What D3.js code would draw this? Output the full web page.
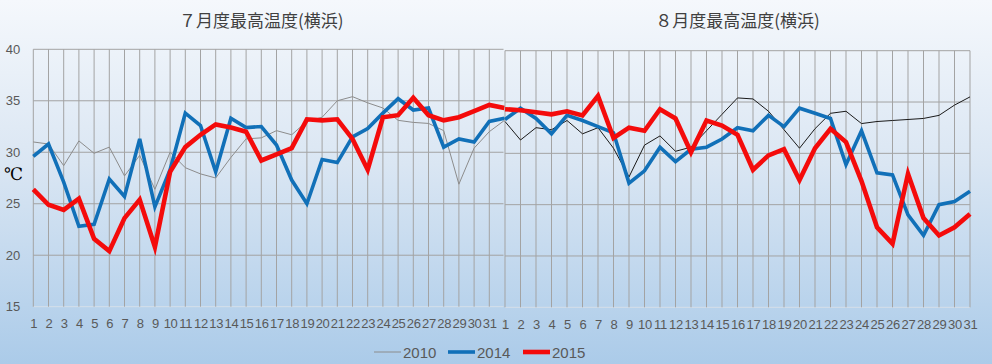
<!DOCTYPE html>
<html>
<head>
<meta charset="utf-8">
<script src="https://cdn.jsdelivr.net/npm/d3@7"></script>
<style>
  body { margin: 0; }
  svg { display: block; font-family: "Liberation Sans", Arial, sans-serif; }
</style>
</head>
<body>
<div id="chart"></div>
<script>
const days = d3.range(1, 32);
const yTicks = [15, 20, 25, 30, 35, 40];
const seriesNames = ['2010', '2014', '2015'];
const titles = ['７月度最高温度(横浜)', '８月度最高温度(横浜)'];

const jul2010 = [31.0, 30.8, 28.7, 31.1, 29.9, 30.5, 27.7, 29.7, 26.4, 30.0, 28.5, 27.9, 27.5, 29.5, 31.3, 31.4,
  32.1, 31.7, 33.0, 33.4, 35.0, 35.4, 34.8, 34.3, 33.1, 32.9, 32.8, 32.1, 26.9, 30.4, 32.0];
const jul2014 = [29.6, 30.8, 27.1, 22.8, 23.0, 27.4, 25.7, 31.3, 24.7, 28.3, 33.8, 32.6, 28.1, 33.3, 32.4, 32.5,
  30.7, 27.3, 25.0, 29.3, 29.0, 31.5, 32.3, 33.8, 35.2, 34.1, 34.3, 30.5, 31.3, 31.0, 33.0];
const jul2015 = [26.4, 24.9, 24.4, 25.5, 21.6, 20.4, 23.6, 25.4, 20.8, 28.1, 30.5, 31.7, 32.7, 32.4, 32.0, 29.2,
  29.8, 30.4, 33.2, 33.1, 33.2, 31.3, 28.3, 33.4, 33.6, 35.3, 33.6, 33.1, 33.4, 34.0, 34.6];

const aug2010 = [33.1, 31.3, 32.5, 32.3, 33.2, 31.9, 32.5, 30.5, 27.7, 30.8, 31.7, 30.2, 30.6, 32.2, 33.8, 35.4,
  35.3, 34.1, 32.3, 30.5, 32.4, 33.9, 34.1, 32.9, 33.1, 33.2, 33.3, 33.4, 33.7, 34.7, 35.5];
const aug2014 = [33.3, 34.4, 33.4, 31.9, 33.7, 33.2, 32.6, 32.0, 27.1, 28.3, 30.6, 29.2, 30.4, 30.6, 31.4, 32.5,
  32.2, 33.7, 32.6, 34.4, 33.9, 33.4, 28.9, 32.2, 28.1, 27.9, 24.0, 22.0, 25.0, 25.3, 26.3];
const aug2015 = [34.3, 34.2, 34.0, 33.8, 34.1, 33.7, 35.6, 31.5, 32.5, 32.2, 34.3, 33.4, 30.1, 33.2, 32.7, 31.8,
  28.4, 29.8, 30.4, 27.4, 30.5, 32.4, 31.1, 27.3, 22.8, 21.2, 28.0, 23.7, 22.0, 22.8, 24.1];

const width = 992, height = 364;

const svg = d3.select('#chart').append('svg')
  .attr('width', width)
  .attr('height', height);

const defs = svg.append('defs');
const grad = defs.append('linearGradient')
  .attr('id', 'bg').attr('x1', 0).attr('y1', 0).attr('x2', 0).attr('y2', 1);
grad.append('stop').attr('offset', '0%').attr('stop-color', '#f5f8fc');
grad.append('stop').attr('offset', '45%').attr('stop-color', '#dae6f3');
grad.append('stop').attr('offset', '100%').attr('stop-color', '#abcbe9');

// the July chart also plots Aug 1, the August chart sits on top of that part
defs.append('clipPath').attr('id', 'julClip')
  .append('rect').attr('x', 0).attr('y', 0).attr('width', 505).attr('height', height);

svg.append('rect').attr('width', width).attr('height', height).attr('fill', 'url(#bg)');

const panels = [
  { title: titles[0], data: [jul2010, jul2014, jul2015], next: [aug2010, aug2014, aug2015],
    x0: 33.3, x1: 504.5, gridEnd: 503.5, top: 49.3, bottom: 306.7, c2010: '#8c8c8c', yAxis: true },
  { title: titles[1], data: [aug2010, aug2014, aug2015], next: null,
    x0: 505, x1: 970, gridEnd: 970, top: 50.7, bottom: 307.3, c2010: '#1a1a1a', yAxis: false }
];

const styles = {
  '2014': { color: '#1170b8', width: 3.6 },
  '2015': { color: '#f40b0b', width: 4.6 }
};

panels.forEach(p => {
  const n = p.next ? days.length + 1 : days.length;
  const idx = d3.range(n);
  const label = i => days[i % days.length];
  const x = d3.scalePoint().domain(idx).range([p.x0, p.x1]);
  const y = d3.scaleLinear().domain([15, 40]).range([p.bottom, p.top]);
  const g = svg.append('g');
  if (p.next) g.attr('clip-path', 'url(#julClip)');

  g.append('g').selectAll('line')
    .data(yTicks)
    .enter().append('line')
    .attr('x1', p.x0).attr('x2', p.gridEnd)
    .attr('y1', d => y(d)).attr('y2', d => y(d))
    .attr('stroke', d => d === 15 ? '#d6dfe9' : '#a3a3a3')
    .attr('stroke-width', 1);

  g.append('g').selectAll('line')
    .data(idx.slice(0, days.length))
    .enter().append('line')
    .attr('x1', d => x(d)).attr('x2', d => x(d))
    .attr('y1', y(40)).attr('y2', y(15))
    .attr('stroke', '#a3a3a3')
    .attr('stroke-width', 1);

  const xAxis = g.append('g')
    .attr('transform', `translate(0,${p.bottom})`)
    .call(d3.axisBottom(x).tickSize(0).tickPadding(12).tickFormat(label));
  xAxis.select('.domain').remove();
  xAxis.selectAll('text')
    .attr('fill', '#595959')
    .attr('opacity', d => d >= days.length ? 0.25 : 1)
    .style('font-size', '13px')
    .style('letter-spacing', '-0.3px');

  if (p.yAxis) {
    const yAxis = g.append('g')
      .attr('transform', `translate(${p.x0},0)`)
      .call(d3.axisLeft(y).tickValues(yTicks).tickSize(0).tickPadding(13));
    yAxis.select('.domain').remove();
    yAxis.selectAll('text')
      .attr('fill', '#595959')
      .style('font-size', '13px');

    g.append('text')
      .attr('x', 4).attr('y', 180)
      .attr('fill', '#000')
      .style('font-family', '"DejaVu Serif", "Liberation Serif", serif')
      .style('font-size', '17px')
      .text('℃');
  }

  g.append('text')
    .attr('x', p.next ? (p.x0 + x(days.length - 1)) / 2 : (p.x0 + p.x1) / 2)
    .attr('y', 27)
    .attr('text-anchor', 'middle')
    .attr('fill', '#404040')
    .style('font-family', '"Noto Sans CJK JP", sans-serif')
    .style('font-size', '17px')
    .text(p.title);

  const line = d3.line()
    .x((d, i) => x(i))
    .y(d => y(d));

  seriesNames.forEach((name, k) => {
    const st = name === '2010' ? { color: p.c2010, width: 1 } : styles[name];
    const values = p.next ? p.data[k].concat(p.next[k][0]) : p.data[k];
    g.append('path')
      .datum(values)
      .attr('fill', 'none')
      .attr('stroke', st.color)
      .attr('stroke-width', st.width)
      .attr('stroke-linejoin', 'miter')
      .attr('d', line);
  });
});

// legend
const legendItems = [
  { name: '2010', color: '#8c8c8c', width: 1, x: 374 },
  { name: '2014', color: styles['2014'].color, width: 3.6, x: 448 },
  { name: '2015', color: styles['2015'].color, width: 4.6, x: 523 }
];
const legend = svg.append('g').attr('transform', 'translate(0,352)');
legend.selectAll('line')
  .data(legendItems)
  .enter().append('line')
  .attr('x1', d => d.x).attr('x2', d => d.x + 27)
  .attr('stroke', d => d.color)
  .attr('stroke-width', d => d.width);
legend.selectAll('text')
  .data(legendItems)
  .enter().append('text')
  .attr('x', d => d.x + 29)
  .attr('y', 5.5)
  .attr('fill', '#595959')
  .style('font-size', '15px')
  .text(d => d.name);
</script>
</body>
</html>
